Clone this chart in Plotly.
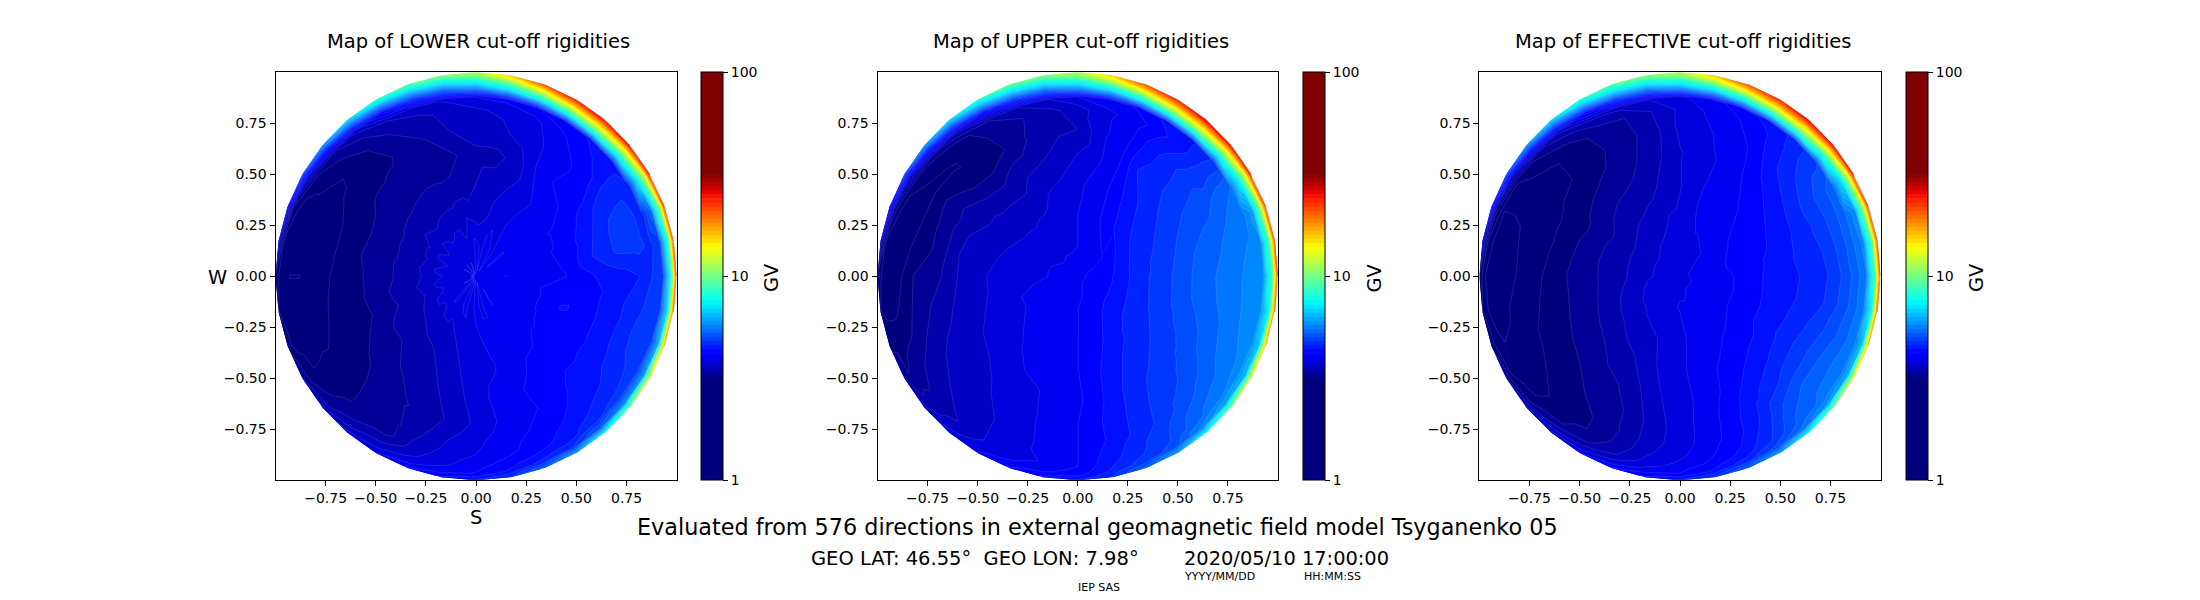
import numpy as np
import plotly.graph_objects as go

# Radius rings and azimuth (deg from +x, counter clockwise) of the sampled directions
rings = [0, 0.15, 0.3, 0.45, 0.6, 0.72, 0.82, 0.88, 0.93, 0.97, 1.0]
azimuths = list(range(0, 370, 10))

centre_lower, centre_upper, centre_effective = 3.9, 4.03, 3.85

# Cut-off rigidity in GV, one row per azimuth (0..350), columns are rings[1:]
lower = [
    [3.89, 3.98, 4.07, 4.27, 4.37, 4.47, 4.68, 4.7, 7.5, 22],
    [4.02, 4.0, 4.1, 4.5, 4.72, 4.75, 4.62, 4.8, 8, 22],
    [3.92, 3.95, 4.12, 4.42, 4.72, 4.75, 4.55, 5.3, 9.5, 23],
    [3.95, 4.0, 4.1, 4.3, 4.58, 4.65, 4.5, 7.2, 12, 25],
    [3.88, 3.93, 3.98, 4.15, 4.22, 4.35, 4.35, 8.5, 15, 26],
    [3.95, 3.98, 3.92, 4.08, 4.05, 4.18, 4.28, 9.5, 16.5, 26],
    [3.85, 3.88, 3.8, 3.9, 3.92, 4.02, 4.2, 9, 16, 24],
    [4.0, 3.82, 3.72, 3.62, 3.78, 3.82, 4.05, 8, 14, 21],
    [3.85, 3.7, 3.62, 3.5, 3.68, 3.74, 3.95, 7, 11, 16],
    [3.95, 3.65, 3.55, 3.5, 3.65, 3.7, 3.9, 6.1, 8.8, 12],
    [3.75, 3.7, 3.45, 3.38, 3.55, 3.6, 3.75, 5.4, 7.8, 10.5],
    [3.88, 3.62, 3.42, 3.3, 3.4, 3.5, 3.65, 4.9, 7, 9.5],
    [3.8, 3.6, 3.42, 3.32, 3.28, 3.42, 3.55, 4.2, 6.2, 8.5],
    [3.88, 3.55, 3.4, 3.3, 3.2, 3.25, 3.38, 3.6, 5.2, 7],
    [3.75, 3.58, 3.38, 3.28, 3.15, 3.12, 3.22, 3.35, 4.4, 6],
    [3.88, 3.5, 3.35, 3.22, 3.12, 3.05, 3.12, 3.2, 3.7, 5],
    [3.72, 3.48, 3.35, 3.2, 3.08, 3.0, 3.02, 3.02, 3.2, 4.2],
    [3.85, 3.52, 3.35, 3.22, 3.08, 3.0, 2.98, 2.98, 3.05, 3.7],
    [3.75, 3.5, 3.35, 3.2, 3.1, 3.0, 2.95, 2.95, 3, 3.2],
    [3.85, 3.55, 3.38, 3.2, 3.12, 3.02, 2.98, 2.97, 3, 3.1],
    [3.75, 3.5, 3.35, 3.18, 3.15, 3.05, 3.0, 3.02, 3.05, 3.2],
    [3.88, 3.55, 3.42, 3.25, 3.1, 3.12, 3.12, 3.1, 3.2, 3.4],
    [3.78, 3.58, 3.42, 3.28, 3.22, 3.2, 3.2, 3.25, 3.35, 3.6],
    [3.92, 3.62, 3.48, 3.38, 3.32, 3.28, 3.28, 3.4, 3.55, 3.8],
    [3.8, 3.65, 3.52, 3.42, 3.38, 3.34, 3.32, 3.5, 3.7, 3.9],
    [3.95, 3.72, 3.62, 3.52, 3.42, 3.52, 3.6, 3.68, 3.85, 4.1],
    [3.82, 3.8, 3.72, 3.65, 3.6, 3.72, 3.78, 3.85, 4, 4.3],
    [3.95, 3.85, 3.8, 3.8, 3.75, 3.85, 3.9, 4.0, 4.1, 4.5],
    [3.85, 3.95, 3.86, 3.95, 3.92, 4.0, 4.02, 4.15, 4.3, 4.7],
    [3.98, 3.95, 3.98, 4.05, 4.02, 4.1, 4.15, 4.3, 4.55, 5.2],
    [3.88, 3.98, 4.05, 4.12, 4.12, 4.22, 4.32, 4.4, 4.7, 6],
    [4.0, 4.0, 4.08, 4.22, 4.28, 4.38, 4.48, 4.62, 5.2, 7.5],
    [3.9, 4.0, 4.14, 4.22, 4.35, 4.48, 4.6, 4.8, 5.8, 10],
    [4.02, 4.02, 4.2, 4.22, 4.4, 4.6, 4.72, 4.9, 6, 14],
    [3.9, 4.03, 4.28, 4.22, 4.42, 4.68, 4.88, 4.85, 6.3, 18],
    [4.0, 4.05, 4.2, 4.22, 4.42, 4.58, 4.78, 4.75, 7, 21],
]
upper = [
    [4.2, 4.57, 4.85, 5.2, 5.43, 5.62, 5.75, 5.9, 8.5, 22],
    [4.18, 4.57, 4.81, 5.15, 5.35, 5.58, 5.65, 5.85, 9, 22],
    [4.15, 4.53, 4.75, 5.05, 5.2, 5.45, 5.55, 6.0, 10.5, 23],
    [4.1, 4.47, 4.68, 4.9, 5.0, 5.25, 5.37, 7.3, 12.5, 25],
    [4.05, 4.4, 4.6, 4.75, 4.85, 4.75, 4.7, 8.7, 15.5, 26],
    [4.02, 4.3, 4.45, 4.6, 4.6, 4.4, 4.4, 10, 17, 26],
    [3.98, 4.17, 4.27, 4.47, 4.37, 4.2, 4.3, 9.5, 16.5, 24],
    [3.98, 4.05, 4.08, 4.05, 4.0, 3.95, 4.1, 8.2, 14.5, 21],
    [3.95, 3.95, 3.95, 3.85, 3.85, 3.85, 4.0, 7, 11.5, 16],
    [3.89, 3.89, 3.85, 3.72, 3.55, 3.63, 3.89, 6.2, 9, 12],
    [3.86, 3.83, 3.75, 3.6, 3.5, 3.5, 3.7, 5.5, 8, 10.5],
    [3.85, 3.8, 3.7, 3.52, 3.4, 3.38, 3.55, 5, 7.3, 9.5],
    [3.85, 3.76, 3.6, 3.47, 3.24, 3.31, 3.39, 4.2, 6.3, 8.5],
    [3.82, 3.73, 3.6, 3.35, 3.12, 3.12, 3.2, 3.6, 5.2, 7],
    [3.82, 3.74, 3.6, 3.38, 3.15, 3.08, 3.12, 3.3, 4.5, 6],
    [3.85, 3.76, 3.6, 3.47, 3.31, 3.09, 3.09, 3.16, 3.7, 5],
    [3.88, 3.79, 3.65, 3.53, 3.27, 3.09, 3.03, 3.02, 3.3, 4.2],
    [3.89, 3.8, 3.69, 3.55, 3.26, 3.13, 3.03, 3.02, 3.05, 3.7],
    [3.89, 3.8, 3.72, 3.55, 3.31, 3.24, 3.09, 3.02, 3.02, 3.2],
    [3.92, 3.86, 3.72, 3.58, 3.42, 3.28, 3.14, 3.05, 3.05, 3.1],
    [3.95, 3.89, 3.75, 3.62, 3.5, 3.36, 3.24, 3.2, 3.18, 3.2],
    [3.98, 3.89, 3.8, 3.67, 3.6, 3.47, 3.39, 3.31, 3.24, 3.4],
    [3.98, 3.92, 3.83, 3.7, 3.62, 3.56, 3.5, 3.42, 3.45, 3.6],
    [3.99, 3.95, 3.88, 3.76, 3.68, 3.63, 3.6, 3.55, 3.65, 3.8],
    [4.03, 3.98, 3.94, 3.85, 3.8, 3.72, 3.72, 3.72, 3.8, 3.9],
    [4.03, 4.01, 3.97, 3.88, 3.86, 3.84, 3.84, 3.8, 3.92, 4.1],
    [4.05, 4.05, 4.01, 3.95, 3.95, 3.95, 3.95, 3.92, 4.05, 4.3],
    [4.07, 4.07, 4.07, 4.03, 4.07, 4.07, 4.07, 4.07, 4.17, 4.5],
    [4.09, 4.14, 4.2, 4.22, 4.27, 4.27, 4.33, 4.4, 4.5, 4.7],
    [4.13, 4.22, 4.33, 4.43, 4.47, 4.5, 4.6, 4.65, 4.8, 5.2],
    [4.17, 4.32, 4.47, 4.62, 4.68, 4.73, 4.85, 4.9, 5.01, 6],
    [4.2, 4.42, 4.57, 4.73, 4.83, 5.0, 5.2, 5.3, 5.7, 7.5],
    [4.22, 4.48, 4.65, 4.84, 5.0, 5.23, 5.43, 5.6, 6.2, 10],
    [4.22, 4.52, 4.73, 4.95, 5.2, 5.43, 5.56, 5.75, 6.5, 14],
    [4.22, 4.55, 4.8, 5.07, 5.3, 5.55, 5.68, 5.83, 6.8, 18],
    [4.21, 4.57, 4.84, 5.18, 5.4, 5.6, 5.74, 5.88, 7.5, 21],
]
effective = [
    [3.98, 4.1, 4.32, 4.47, 4.62, 4.95, 5.25, 5.6, 8.5, 22],
    [4.0, 4.13, 4.3, 4.5, 4.68, 5.0, 5.35, 5.7, 9, 22],
    [3.98, 4.13, 4.25, 4.48, 4.72, 5.03, 5.38, 5.8, 10.5, 23],
    [3.95, 4.1, 4.2, 4.45, 4.75, 5.05, 5.3, 7, 12.5, 25],
    [3.92, 4.06, 4.13, 4.35, 4.62, 4.82, 4.85, 8.5, 15.5, 26],
    [3.88, 4.03, 4.07, 4.22, 4.42, 4.48, 4.5, 10, 17, 26],
    [3.85, 4.0, 4.0, 4.05, 4.1, 4.2, 4.35, 9.5, 16.5, 24],
    [3.85, 3.93, 3.93, 3.92, 3.97, 4.05, 4.15, 8.2, 14.5, 21],
    [3.83, 3.85, 3.85, 3.8, 3.85, 3.92, 4.0, 7, 11.5, 16],
    [3.8, 3.75, 3.7, 3.7, 3.75, 3.75, 3.85, 6.2, 9, 12],
    [3.8, 3.72, 3.6, 3.53, 3.5, 3.55, 3.72, 5.5, 8, 10.5],
    [3.77, 3.65, 3.5, 3.4, 3.35, 3.38, 3.6, 5, 7.3, 9.5],
    [3.75, 3.6, 3.45, 3.3, 3.25, 3.3, 3.5, 4.2, 6.3, 8.5],
    [3.72, 3.57, 3.42, 3.25, 3.15, 3.15, 3.3, 3.6, 5.2, 7],
    [3.7, 3.53, 3.37, 3.2, 3.08, 3.07, 3.17, 3.3, 4.5, 6],
    [3.7, 3.5, 3.3, 3.15, 3.05, 3.0, 3.05, 3.1, 3.7, 5],
    [3.7, 3.5, 3.34, 3.15, 3.02, 2.97, 2.95, 2.95, 3.3, 4.2],
    [3.7, 3.5, 3.35, 3.17, 3.02, 2.95, 2.9, 2.88, 3.05, 3.7],
    [3.7, 3.5, 3.35, 3.2, 3.05, 2.95, 2.9, 2.85, 2.95, 3.2],
    [3.74, 3.53, 3.35, 3.2, 3.08, 3.0, 2.93, 2.88, 2.95, 3.1],
    [3.77, 3.57, 3.37, 3.22, 3.12, 3.03, 2.97, 2.95, 3, 3.2],
    [3.8, 3.6, 3.4, 3.25, 3.15, 3.05, 3.0, 3.0, 3.1, 3.4],
    [3.8, 3.63, 3.43, 3.28, 3.18, 3.12, 3.07, 3.1, 3.25, 3.6],
    [3.82, 3.67, 3.5, 3.35, 3.25, 3.18, 3.17, 3.22, 3.45, 3.8],
    [3.85, 3.7, 3.55, 3.4, 3.3, 3.25, 3.25, 3.35, 3.6, 3.9],
    [3.85, 3.73, 3.65, 3.53, 3.43, 3.42, 3.45, 3.55, 3.8, 4.1],
    [3.88, 3.8, 3.78, 3.7, 3.65, 3.65, 3.7, 3.8, 4, 4.3],
    [3.9, 3.85, 3.85, 3.8, 3.8, 3.8, 3.85, 3.95, 4.1, 4.5],
    [3.9, 3.92, 3.95, 3.95, 3.97, 3.98, 4.03, 4.12, 4.3, 4.7],
    [3.92, 3.97, 4.03, 4.08, 4.15, 4.18, 4.25, 4.35, 4.6, 5.2],
    [3.95, 4.0, 4.1, 4.25, 4.4, 4.5, 4.6, 4.7, 5, 6],
    [3.95, 4.03, 4.17, 4.38, 4.62, 4.95, 5.1, 5.2, 5.5, 7.5],
    [3.95, 4.07, 4.23, 4.5, 4.8, 5.2, 5.35, 5.45, 6, 10],
    [3.95, 4.1, 4.3, 4.55, 4.85, 5.2, 5.4, 5.5, 6.3, 14],
    [3.95, 4.1, 4.3, 4.52, 4.77, 5.07, 5.33, 5.55, 6.6, 18],
    [3.97, 4.1, 4.31, 4.48, 4.65, 4.97, 5.27, 5.58, 7.5, 21],
]

titles = ["Map of LOWER cut-off rigidities", "Map of UPPER cut-off rigidities", "Map of EFFECTIVE cut-off rigidities"]
axis_ticks = [-0.75, -0.5, -0.25, 0, 0.25, 0.5, 0.75]
cbar_ticks = [1, 10, 100]

# Axes boxes in pixels: left, right, colorbar left
W, H = 2200, 600
TOP, BOTTOM = 72.3, 480.3
boxes = [(275.5, 676.7, 701), (877.5, 1278, 1303), (1479.4, 1880.6, 1906)]
title_x = [478, 1081, 1683]

# Filled bands, 0.02 decades wide, between 1 and 100 GV
LEVEL_STEP = 0.02
levels = np.arange(0, 2 + LEVEL_STEP / 2, LEVEL_STEP)
cut_levels = np.concatenate(([0], levels[:-1] + LEVEL_STEP / 2, [2]))

# jet stretched over 10**0.5 .. 10**1.5 GV
jet_pos = [0, 0.11, 0.125, 0.34, 0.35, 0.375, 0.64, 0.65, 0.66, 0.89, 0.91, 1]
jet_r = [0, 0, 0, 0, 0, 0, 0.98, 1, 1, 1, 0.91, 0.5]
jet_g = [0, 0, 0, 0.86, 0.9, 1, 1, 0.96, 0.92, 0.07, 0, 0]
jet_b = [0.5, 1, 1, 1, 0.98, 0.96, 0.02, 0, 0, 0, 0, 0]


def band_colour(mid):
    t = np.clip(mid - 0.5, 0, 1)
    rgb = [np.interp(t, jet_pos, chan) * 255 for chan in (jet_r, jet_g, jet_b)]
    return "rgb(%d,%d,%d)" % tuple(rgb)


colorscale = [[float(m / 2), band_colour(m)] for m in levels]


def clip(poly, level, keep_above):
    # cut a polygon of (x, y, z) corners along z = level
    out = []
    for k in range(len(poly)):
        p, q = poly[k], poly[(k + 1) % len(poly)]
        p_in = p[2] >= level if keep_above else p[2] <= level
        q_in = q[2] >= level if keep_above else q[2] <= level
        if p_in:
            out.append(p)
        if p_in != q_in:
            f = (level - p[2]) / (q[2] - p[2])
            out.append((p[0] + f * (q[0] - p[0]), p[1] + f * (q[1] - p[1]), level))
    return out


def crossing(tri, level):
    # the bit of the contour line z = level inside one triangle
    pts = []
    for k in range(3):
        p, q = tri[k], tri[(k + 1) % 3]
        if (p[2] >= level) != (q[2] >= level):
            f = (level - p[2]) / (q[2] - p[2])
            pts.append((float(p[0] + f * (q[0] - p[0])), float(p[1] + f * (q[1] - p[1]))))
    return pts


def triangles(table, centre):
    rows = [[centre] + row for row in table]
    rows.append(rows[0])
    z = np.log10(rows)
    r, az = np.meshgrid(rings, np.radians(azimuths))
    x, y = r * np.cos(az), r * np.sin(az)
    tris = []
    for i in range(len(azimuths) - 1):
        for j in range(len(rings) - 1):
            a = (x[i, j], y[i, j], z[i, j])
            b = (x[i, j + 1], y[i, j + 1], z[i, j + 1])
            c = (x[i + 1, j + 1], y[i + 1, j + 1], z[i + 1, j + 1])
            d = (x[i + 1, j], y[i + 1, j], z[i + 1, j])
            tris.append([a, b, c])
            if j > 0:
                tris.append([a, c, d])
    return tris


fig = go.Figure()
tables = [(lower, centre_lower), (upper, centre_upper), (effective, centre_effective)]
for i, (table, centre) in enumerate(tables):
    n = "" if i == 0 else str(i + 1)
    tris = triangles(table, centre)
    line_x, line_y = [], []
    for lo, hi in zip(cut_levels[:-1], cut_levels[1:]):
        xs, ys = [], []
        for tri in tris:
            # each band reaches one step under the next, so no white shows between them
            poly = clip(tri, lo, True)
            if poly:
                poly = clip(poly, hi + LEVEL_STEP, False)
            if len(poly) > 2:
                xs += [float(p[0]) for p in poly] + [float(poly[0][0]), None]
                ys += [float(p[1]) for p in poly] + [float(poly[0][1]), None]
            if 0.45 < lo < 0.86:
                pts = crossing(tri, lo)
                if len(pts) == 2:
                    line_x += [pts[0][0], pts[1][0], None]
                    line_y += [pts[0][1], pts[1][1], None]
        if xs:
            fig.add_trace(go.Scatter(x=xs, y=ys, mode="lines", fill="toself", line=dict(width=0),
                                     fillcolor=band_colour((lo + hi) / 2), hoverinfo="skip", xaxis="x" + n, yaxis="y" + n))
    fig.add_trace(go.Scatter(x=line_x, y=line_y, mode="lines", line=dict(width=0.6, color="rgba(255,255,255,0.2)"),
                             hoverinfo="skip", xaxis="x" + n, yaxis="y" + n))
    left, right, cleft = boxes[i]
    # only here for the colour bar, it lies outside the axis range
    fig.add_trace(go.Contour(
        x=[5, 6], y=[5, 6], z=[[0, 1], [1, 2]], xaxis="x" + n, yaxis="y" + n,
        autocontour=False, colorscale=colorscale, zauto=False, zmin=0, zmax=2, hoverinfo="skip",
        contours=dict(start=0, end=2, size=LEVEL_STEP, coloring="fill", showlines=False), line=dict(width=0),
        colorbar=dict(x=cleft / W, xanchor="left", xpad=0, y=1 - (TOP + BOTTOM) / 2 / H, yanchor="middle", ypad=0,
                      len=(BOTTOM - TOP) / H, lenmode="fraction", thickness=22, outlinewidth=1, outlinecolor="black",
                      tickvals=np.log10(cbar_ticks), ticktext=[str(v) for v in cbar_ticks], ticks="outside", ticklen=5,
                      tickcolor="black", tickfont=dict(size=14, color="black")),
    ))
    axis = dict(range=[-1, 1], tickvals=axis_ticks, tickformat=".2f", showgrid=False, zeroline=False, showline=True,
                linecolor="black", linewidth=1, mirror=True, ticks="outside", ticklen=5, tickcolor="black",
                tickfont=dict(size=14, color="black"))
    fig.update_layout({"xaxis" + n: dict(axis, domain=[left / W, right / W], anchor="y" + n),
                       "yaxis" + n: dict(axis, domain=[1 - BOTTOM / H, 1 - TOP / H], anchor="x" + n)})


def text(px, py, s, size, angle=0):
    fig.add_annotation(x=px / W, y=1 - py / H, xref="paper", yref="paper", text=s, showarrow=False, xanchor="center",
                       yanchor="middle", textangle=angle, font=dict(size=size, color="black"))


for tx, title in zip(title_x, titles):
    text(tx, 41, title, 19.5)
for gx in [771, 1373.5, 1976]:
    text(gx, 278, "GV", 19.4, -90)
text(217.5, 277, "W", 19.4)
text(476, 517, "S", 19.4)
text(1097, 527, "Evaluated from 576 directions in external geomagnetic field model Tsyganenko 05", 22.3)
text(974.5, 558, "GEO LAT: 46.55°  GEO LON: 7.98°", 19.5)
text(1286, 558, "2020/05/10 17:00:00", 19.4)
text(1219, 576, "YYYY/MM/DD", 11)
text(1332, 576, "HH:MM:SS", 11)
text(1099, 587, "IEP SAS", 11)

fig.update_layout(width=W, height=H, autosize=False, margin=dict(l=0, r=0, t=0, b=0), showlegend=False,
                  paper_bgcolor="white", plot_bgcolor="white", font=dict(family="DejaVu Sans"))
fig.write_html("out.html", config=dict(displayModeBar=False), post_script="document.body.style.margin='0';")
